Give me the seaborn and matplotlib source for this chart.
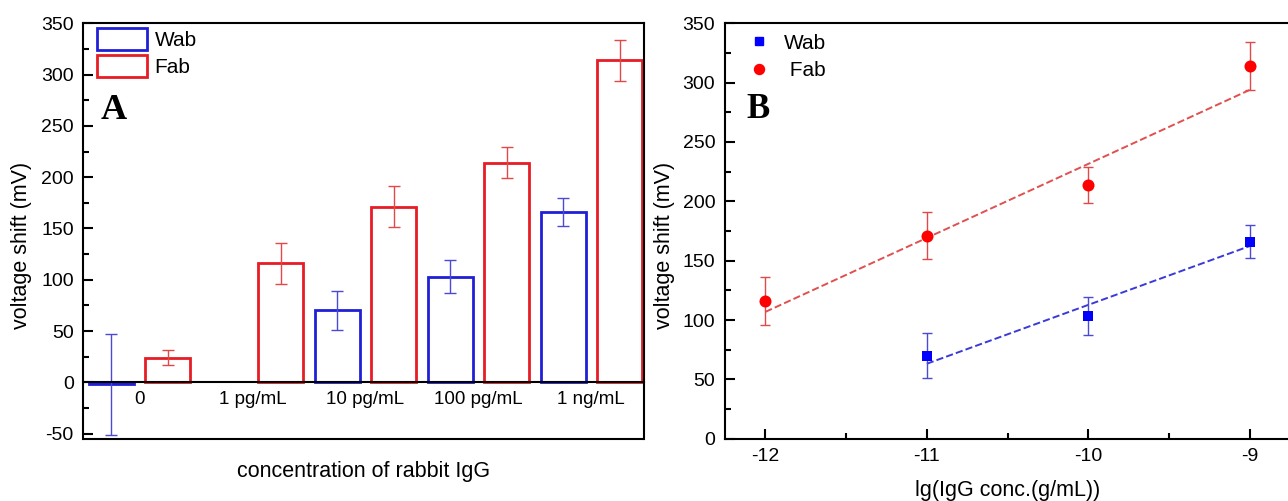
import numpy as np
import pandas as pd
import matplotlib
matplotlib.use('Agg')
import matplotlib.pyplot as plt
import seaborn as sns
from matplotlib.patches import Patch
from matplotlib.lines import Line2D
from matplotlib.ticker import MultipleLocator

# data
concentrations = ['0', '1 pg/mL', '10 pg/mL', '100 pg/mL', '1 ng/mL']
lg_conc = [np.nan, -12, -11, -10, -9]          # log10 of g/mL, none for the blank
wab_shift = [-2, np.nan, 70, 103, 166]
wab_err = [49, np.nan, 19, 16, 14]
fab_shift = [24, 116, 171, 214, 314]
fab_err = [7, 20, 20, 15, 20]

antibodies = ['Wab', 'Fab']
bar_colors = {'Wab': '#1f1fd8', 'Fab': '#e81c24'}
err_colors = {'Wab': '#4a4ad6', 'Fab': '#e24848'}
pt_colors = {'Wab': '#0000ff', 'Fab': '#ff0000'}
fit_colors = {'Wab': '#3a3ad8', 'Fab': '#e05050'}

rows = []
for i, c in enumerate(concentrations):
    rows.append({'conc': c, 'lg': lg_conc[i], 'antibody': 'Wab',
                 'shift': wab_shift[i], 'err': wab_err[i]})
    rows.append({'conc': c, 'lg': lg_conc[i], 'antibody': 'Fab',
                 'shift': fab_shift[i], 'err': fab_err[i]})
df = pd.DataFrame(rows).dropna(subset=['shift'])

sns.set_theme(style='ticks')
plt.rcParams['font.family'] = ['Liberation Sans', 'DejaVu Sans']
plt.rcParams['axes.unicode_minus'] = False
plt.rcParams['axes.linewidth'] = 1.5
for key in ['text.color', 'axes.labelcolor', 'axes.edgecolor',
            'xtick.color', 'ytick.color']:
    plt.rcParams[key] = 'black'

W, H = 1288, 501
fig = plt.figure(figsize=(W / 100, H / 100), dpi=100)
axA = fig.add_axes([82.9 / W, (H - 438.7) / H, 561 / W, 415.4 / H])
axB = fig.add_axes([725 / W, (H - 438.7) / H, 565 / W, 415.4 / H])

# ---------------- panel A: bars ----------------
sns.barplot(data=df, x='conc', y='shift', hue='antibody', order=concentrations,
            hue_order=antibodies, palette=bar_colors, fill=False, width=1.0,
            gap=0.2, linewidth=2, errorbar=None, legend=False, ax=axA)

err_lookup = {'Wab': wab_err, 'Fab': fab_err}
for cont, ab in zip(axA.containers, antibodies):
    for p in cont.patches:
        xc = p.get_x() + p.get_width() / 2
        val = p.get_y() + p.get_height()
        idx = int(round(xc))
        axA.errorbar(xc, val, yerr=err_lookup[ab][idx], fmt='none',
                     ecolor=err_colors[ab], elinewidth=1.0, capsize=4,
                     capthick=1.0)

axA.set_xlim(-0.5, 4.465)
axA.set_ylim(-55, 350)
axA.yaxis.set_major_locator(MultipleLocator(50))
axA.yaxis.set_minor_locator(MultipleLocator(25))
axA.spines['bottom'].set_position(('data', 0))
axA.plot([0, 1], [0, 0], transform=axA.transAxes, color='black', lw=1.5,
         clip_on=False)
axA.tick_params(axis='y', which='major', direction='in', length=7, width=1.5,
                labelsize=14, pad=6.5)
axA.tick_params(axis='y', which='minor', direction='in', length=4, width=1.5)
axA.tick_params(axis='x', length=0, labelsize=13.5, pad=6)

axA.set_xlabel('concentration of rabbit IgG', fontsize=15.5)
axA.xaxis.set_label_coords(0.5, -0.08)
axA.xaxis.label.set_va('center')
axA.set_ylabel('voltage shift (mV)', fontsize=15.5)
axA.yaxis.set_label_coords(-0.110, 0.465)
axA.yaxis.label.set_va('center')

handles = [Patch(facecolor='none', edgecolor=bar_colors[ab], lw=2, label=ab)
           for ab in antibodies]
axA.legend(handles=handles, loc='upper left', bbox_to_anchor=(0.0257, 0.988),
           frameon=False, fontsize=15, handlelength=2.4, handleheight=1.2,
           handletextpad=0.35, labelspacing=0.25, borderpad=0, borderaxespad=0)
axA.text(0.0317, 0.769, 'A', transform=axA.transAxes, fontsize=26,
         fontweight='bold', family='Liberation Serif', ha='left', va='baseline')

# ---------------- panel B: log-linear fit ----------------
dfb = df.dropna(subset=['lg'])
marker_map = {'Wab': 's', 'Fab': 'o'}
size_map = {'Wab': 55, 'Fab': 75}
for ab in antibodies:
    sub = dfb[dfb['antibody'] == ab]
    # instrumental (1/sigma^2) weighted linear fit, as in the original
    slope, icpt = np.polyfit(sub['lg'], sub['shift'], 1, w=1 / sub['err'])
    xfit = np.array([sub['lg'].min(), sub['lg'].max()])
    sns.lineplot(x=xfit, y=slope * xfit + icpt, color=fit_colors[ab],
                 ls='--', lw=1.4, ax=axB)
    axB.errorbar(sub['lg'], sub['shift'], yerr=sub['err'], fmt='none',
                 ecolor=err_colors[ab], elinewidth=1.0, capsize=3.6,
                 capthick=1.0, zorder=3)
    sns.scatterplot(data=sub, x='lg', y='shift', color=pt_colors[ab],
                    marker=marker_map[ab], s=size_map[ab], linewidth=0,
                    zorder=4, ax=axB)

axB.set_xlim(-12.25, -8.75)
axB.set_ylim(0, 350)
axB.xaxis.set_major_locator(MultipleLocator(1))
axB.xaxis.set_minor_locator(MultipleLocator(0.5))
axB.yaxis.set_major_locator(MultipleLocator(50))
axB.yaxis.set_minor_locator(MultipleLocator(25))
axB.spines['right'].set_visible(False)
axB.tick_params(which='major', direction='in', length=7, width=1.5,
                labelsize=14, pad=7)
axB.tick_params(which='minor', direction='in', length=4, width=1.5)

axB.set_xlabel('lg(IgG conc.(g/mL))', fontsize=15.5)
axB.xaxis.set_label_coords(0.5, -0.1235)
axB.xaxis.label.set_va('center')
axB.set_ylabel('voltage shift (mV)', fontsize=15.5)
axB.yaxis.set_label_coords(-0.107, 0.465)
axB.yaxis.label.set_va('center')

mk_handles = [Line2D([], [], ls='none', marker='s', color=pt_colors['Wab'],
                     markersize=6, label='Wab'),
              Line2D([], [], ls='none', marker='o', color=pt_colors['Fab'],
                     markersize=7.2, label=' Fab')]
axB.legend(handles=mk_handles, loc='upper left', bbox_to_anchor=(0.041, 0.975),
           frameon=False, fontsize=15, handlelength=1.0, handletextpad=0.7,
           labelspacing=0.4, borderpad=0, borderaxespad=0)
axB.text(0.0386, 0.772, 'B', transform=axB.transAxes, fontsize=25,
         fontweight='bold', family='Liberation Serif', ha='left', va='baseline')

fig.savefig('out.png', dpi=100)
